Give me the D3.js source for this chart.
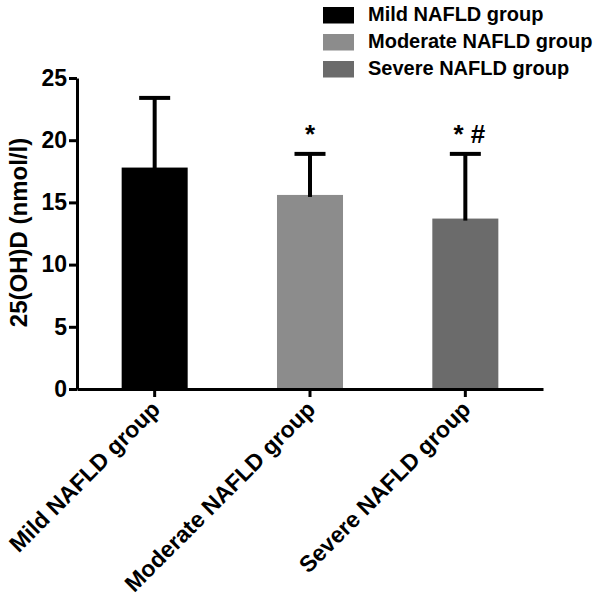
<!DOCTYPE html>
<html><head><meta charset="utf-8">
<script src="https://cdn.jsdelivr.net/npm/d3@7"></script>
<style>
html,body{margin:0;padding:0;background:#fff;}
svg{display:block;}
text{font-family:"Liberation Sans",Arial,Helvetica,sans-serif;font-weight:bold;fill:#000;}
</style></head>
<body>
<script>
const categories = ["Mild NAFLD group", "Moderate NAFLD group", "Severe NAFLD group"];
const means = [17.8, 15.6, 13.7];
const sds = [5.6, 3.3, 5.2];
const colors = ["#000000", "#8c8c8c", "#6b6b6b"];
const marks = ["", "*", "* #"];
const yTicks = [0, 5, 10, 15, 20, 25];
const yLabel = "25(OH)D (nmol/l)";

const W = 602, H = 609;
const svg = d3.select("body").append("svg").attr("width", W).attr("height", H);

const x = d3.scaleBand().domain(categories).range([77, 543]).padding(0);
const y = d3.scaleLinear().domain([0, 25]).range([389, 78]);
const barW = x.bandwidth() * 0.425;

// bars
svg.selectAll("rect.bar").data(categories).enter().append("rect")
  .attr("class", "bar")
  .attr("x", (d) => x(d) + x.bandwidth() / 2 - barW / 2)
  .attr("width", barW)
  .attr("y", (d, i) => y(means[i]))
  .attr("height", (d, i) => y(0) - y(means[i]))
  .attr("fill", (d, i) => colors[i]);

// error bars (upper)
const eb = svg.append("g").attr("stroke", "#000").attr("stroke-width", 4).attr("fill", "none");
categories.forEach((c, i) => {
  const cx = x(c) + x.bandwidth() / 2;
  eb.append("line").attr("x1", cx).attr("x2", cx)
    .attr("y1", y(means[i] + sds[i])).attr("y2", y(means[i]) + 2);
  eb.append("line").attr("x1", cx - 15.5).attr("x2", cx + 15.5)
    .attr("y1", y(means[i] + sds[i])).attr("y2", y(means[i] + sds[i]));
});

// significance marks
svg.selectAll("text.mark").data(categories).enter().append("text")
  .attr("class", "mark")
  .attr("x", (d, i) => x(d) + x.bandwidth() / 2 + (i === 2 ? 4 : 0))
  .attr("y", 143)
  .attr("text-anchor", "middle")
  .style("font-size", "26px")
  .text((d, i) => marks[i]);

// y axis
const yAxis = svg.append("g").attr("transform", "translate(77,0)")
  .call(d3.axisLeft(y).tickValues(yTicks).tickSize(8).tickSizeOuter(0).tickPadding(2));
yAxis.select(".domain").attr("stroke-width", 3).attr("stroke", "#000");
yAxis.selectAll(".tick line").attr("stroke-width", 3).attr("stroke", "#000");
yAxis.selectAll(".tick text").style("font-size", "23px").style("font-family", "'Liberation Sans',Arial,sans-serif").style("font-weight", "bold").attr("fill", "#000");

// x axis
const xAxis = svg.append("g").attr("transform", "translate(0,389)")
  .call(d3.axisBottom(x).tickSize(8).tickSizeOuter(0).tickFormat(""));
xAxis.select(".domain").attr("stroke-width", 3).attr("stroke", "#000");
xAxis.selectAll(".tick line").attr("stroke-width", 3).attr("stroke", "#000");

// rotated category labels
svg.selectAll("text.xlab").data(categories).enter().append("text")
  .attr("class", "xlab")
  .attr("transform", (d) => `translate(${x(d) + x.bandwidth() / 2 + 1},405) rotate(-45)`)
  .attr("text-anchor", "end")
  .attr("dy", "0.35em")
  .style("font-size", "23px")
  .text((d) => d);

// y label
svg.append("text")
  .attr("transform", "translate(27,232.5) rotate(-90)")
  .attr("text-anchor", "middle")
  .style("font-size", "24px")
  .text(yLabel);

// legend
const lg = svg.append("g");
categories.forEach((c, i) => {
  const yy = 7 + i * 27;
  lg.append("rect").attr("x", 323).attr("y", yy).attr("width", 31).attr("height", 16.5).attr("fill", colors[i]);
  lg.append("text").attr("x", 368).attr("y", yy + 14).style("font-size", "20px").text(c);
});
</script>
</body></html>
